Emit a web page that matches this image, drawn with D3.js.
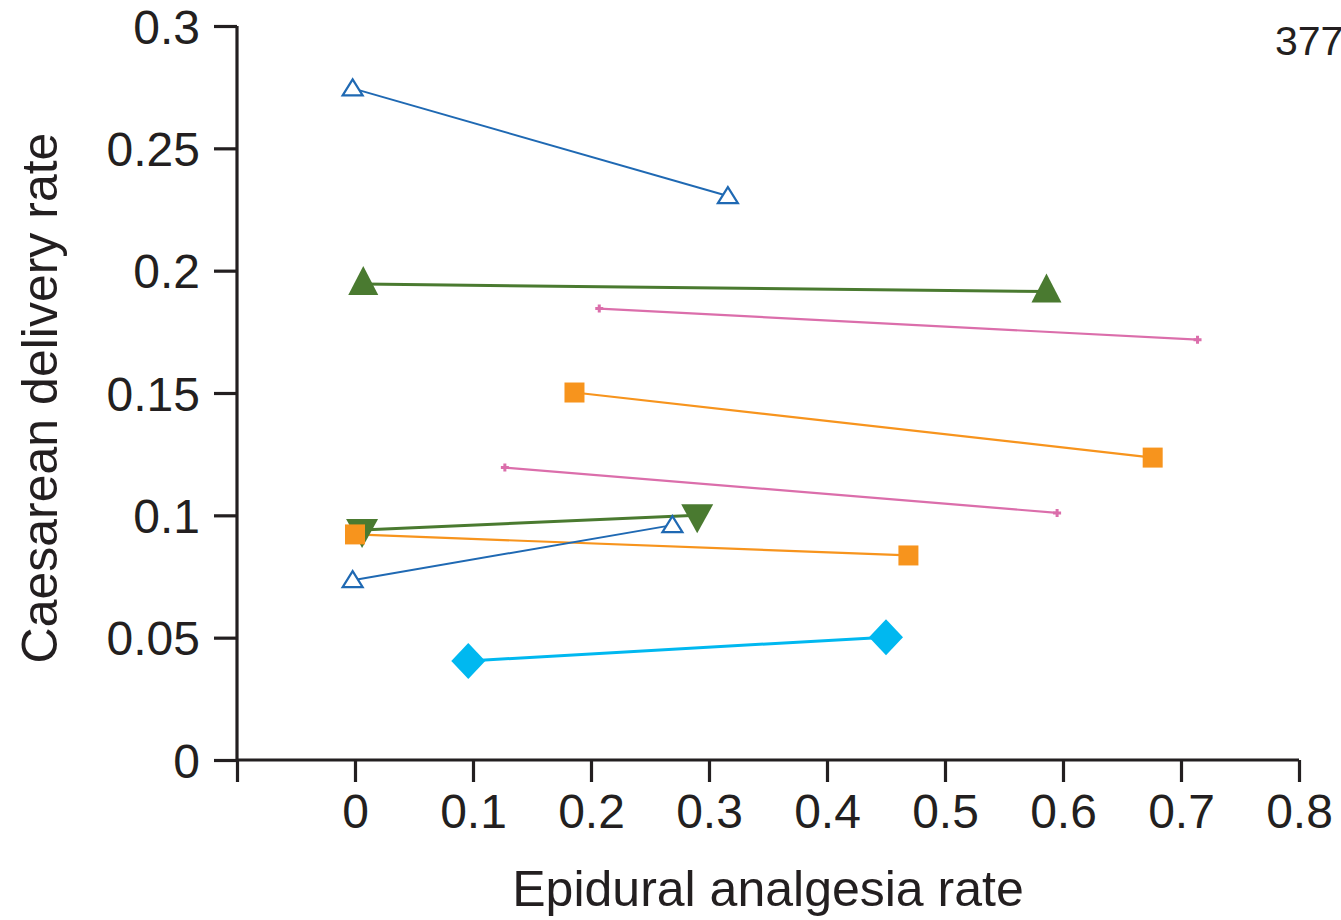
<!DOCTYPE html>
<html>
<head>
<meta charset="utf-8">
<script src="https://cdn.jsdelivr.net/npm/d3@7"></script>
<style>
  html, body { margin: 0; padding: 0; background: #fff; }
  svg { display: block; }
  text { font-family: "Liberation Sans", Arial, sans-serif; fill: #231f20; }
</style>
</head>
<body>
<svg id="chart" width="1341" height="920"></svg>
<script>
// ---- data ----
const xTicks = [-0.1, 0, 0.1, 0.2, 0.3, 0.4, 0.5, 0.6, 0.7, 0.8];
const yTicks = [0, 0.05, 0.1, 0.15, 0.2, 0.25, 0.3];
const xTitle = "Epidural analgesia rate";
const yTitle = "Caesarean delivery rate";
const pageNumber = "377";

const seriesNames  = ["blueHigh", "greenUp", "pinkHigh", "orangeHigh", "pinkLow", "greenDown", "orangeLow", "blueLow", "cyan"];
const seriesMarker = ["triangleOpen", "triangle", "plus", "square", "plus", "triangleDown", "square", "triangleOpen", "diamond"];
const seriesColor  = ["#1f69b3", "#4a7a30", "#db6eab", "#f7941d", "#db6eab", "#4a7a30", "#f7941d", "#1f69b3", "#00b8f0"];
const seriesX = [
  [-0.002, 0.316],
  [0.007, 0.586],
  [0.207, 0.714],
  [0.186, 0.676],
  [0.127, 0.595],
  [0.006, 0.290],
  [0.000, 0.469],
  [-0.002, 0.269],
  [0.096, 0.450]
];
const seriesY = [
  [0.2745, 0.2305],
  [0.1945, 0.1915],
  [0.1845, 0.1718],
  [0.1502, 0.1236],
  [0.1195, 0.1010],
  [0.0940, 0.1000],
  [0.0922, 0.0836],
  [0.0735, 0.0960],
  [0.0405, 0.0502]
];

// ---- drawing ----
const svg = d3.select("#chart");
const x = d3.scaleLinear().domain([-0.1, 0.8]).range([237, 1299]);
const y = d3.scaleLinear().domain([0, 0.3]).range([760, 26]);

const fmt = d => d === 0 ? "0" : String(+d.toFixed(2));

// X axis
const gx = svg.append("g").attr("transform", `translate(0,${y(0)})`)
  .call(d3.axisBottom(x).tickValues(xTicks).tickSize(22).tickPadding(12)
    .tickFormat(d => d < 0 ? "" : fmt(d)));
// Y axis
const gy = svg.append("g").attr("transform", `translate(${x(-0.1)},0)`)
  .call(d3.axisLeft(y).tickValues(yTicks).tickSize(23).tickPadding(14).tickFormat(fmt));

[gx, gy].forEach(g => {
  g.select(".domain").attr("stroke", "#231f20").attr("stroke-width", 3.2);
  g.selectAll(".tick line").attr("stroke", "#231f20").attr("stroke-width", 3.2);
  g.selectAll(".tick text").attr("font-size", 48).attr("fill", "#231f20")
    .attr("font-family", "Liberation Sans, Arial, sans-serif");
});
gx.select(".domain").attr("d", `M${x(-0.1)},0H${x(0.8)}`);
gx.selectAll(".tick text").attr("dy", "0.71em");
gy.select(".domain").attr("d", `M0,${y(0.3)}V${y(0)}`);
gy.selectAll(".tick text").attr("dy", "0.36em");

// Titles
svg.append("text").attr("x", 768).attr("y", 906).attr("text-anchor", "middle")
  .attr("font-size", 50).text(xTitle);
svg.append("text").attr("transform", `translate(57,398) rotate(-90)`)
  .attr("text-anchor", "middle").attr("font-size", 50).text(yTitle);
svg.append("text").attr("x", 1275).attr("y", 55).attr("font-size", 41)
  .attr("font-family", "Liberation Sans, Arial, sans-serif").attr("fill", "#000").text(pageNumber);

// Series
const lineW = { triangleOpen: 2, triangle: 3, plus: 2.2, square: 2.2, triangleDown: 3, diamond: 3 };
const series = seriesNames.map((n, i) => ({
  name: n, marker: seriesMarker[i], color: seriesColor[i],
  pts: seriesX[i].map((vx, j) => [vx, seriesY[i][j]])
}));

const line = d3.line().x(d => x(d[0])).y(d => y(d[1]));
const gs = svg.append("g");
series.forEach(s => {
  gs.append("path").attr("d", line(s.pts)).attr("fill", "none")
    .attr("stroke", s.color).attr("stroke-width", lineW[s.marker]);
});

function markerPath(type) {
  switch (type) {
    case "triangleOpen": return "M0,-9L10,7L-10,7Z";
    case "triangle": return "M0,-18L15,11L-15,11Z";
    case "triangleDown": return "M0,18L-16,-11L16,-11Z";
    case "square": return "M-10,-10H10V10H-10Z";
    case "diamond": return "M0,-18L17,0L0,18L-17,0Z";
    case "plus": return "M-4,0H4M0,-4V4";
  }
}
series.forEach(s => {
  s.pts.forEach(p => {
    const m = gs.append("path").attr("d", markerPath(s.marker))
      .attr("transform", `translate(${x(p[0])},${y(p[1])})`);
    if (s.marker === "triangleOpen") {
      m.attr("fill", "#fff").attr("stroke", s.color).attr("stroke-width", 2.2);
    } else if (s.marker === "plus") {
      m.attr("fill", "none").attr("stroke", s.color).attr("stroke-width", 3);
    } else {
      m.attr("fill", s.color).attr("stroke", "none");
    }
  });
});
</script>
</body>
</html>
